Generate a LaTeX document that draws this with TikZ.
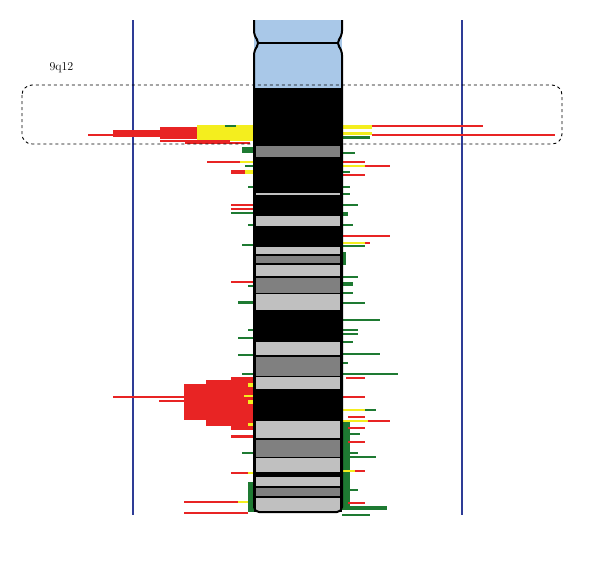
\documentclass[tikz,border=0pt]{standalone}
\usepackage{tikz}
\definecolor{cnvred}{HTML}{E82424}
\definecolor{cnvyellow}{HTML}{F4EE1E}
\definecolor{cnvgreen}{HTML}{1E7A32}
\definecolor{banddark}{HTML}{808080}
\definecolor{bandlight}{HTML}{C0C0C0}
\definecolor{chrblue}{HTML}{A9C8E8}
\definecolor{axisblue}{HTML}{2E3C96}
\tikzset{
  axisline/.style = {axisblue, line width=1.2pt},
  region/.style = {dashed, line width=0.9pt, rounded corners=10pt},
  chrline/.style = {black, line width=2pt}
}
\begin{document}
\begin{tikzpicture}[x=1pt, y=-1pt]
\useasboundingbox (0,0) rectangle (600,562);

% axes
\draw[axisline] (133,20) -- (133,515);
\draw[axisline] (462,20) -- (462,515);

% chromosome body
\fill[black] (254,88) rectangle (342,512);
\fill[chrblue] (254,20) rectangle (342,88);
\foreach \t/\b/\c in {146/157/banddark, 193/195/bandlight, 216/226/bandlight,
  247/254/bandlight, 256/263/banddark, 265/276/bandlight, 278/293/banddark,
  294/310/bandlight, 342/355/bandlight, 357/376/banddark, 377/389/bandlight,
  421/438/bandlight, 440/457/banddark, 458/472/bandlight, 477/486/bandlight,
  488/496/banddark, 498/512/bandlight}
  \fill[\c] (256,\t) rectangle (340,\b);

% copy number bars, left
\fill[cnvred] (160,127) rectangle (254,139);
\fill[cnvred] (113,130) rectangle (254,137);
\fill[cnvyellow] (197,125) rectangle (254,141);
\fill[cnvred] (184,384) rectangle (254,420);
\fill[cnvred] (206,380) rectangle (254,426);
\fill[cnvred] (231,377) rectangle (254,430);
\fill[cnvgreen] (248,482) rectangle (254,512);
\foreach \y/\a/\b/\w/\c in {
  135/88/160/2/cnvred, 126/225/236/2/cnvgreen, 141/160/230/2/cnvred, 143/185/250/2/cnvred,
  150/242/254/6/cnvgreen, 162/207/245/2/cnvred, 162/240/254/2/cnvyellow,
  172/231/245/4/cnvred, 172/245/254/4/cnvyellow, 166/245/254/2/cnvgreen,
  187/248/254/2/cnvgreen, 205/231/254/2/cnvred, 209/231/254/2/cnvred,
  213/231/254/2/cnvgreen, 225/248/254/2/cnvgreen, 245/242/254/2/cnvgreen,
  282/231/254/2/cnvred, 286/248/254/2/cnvgreen, 302/238/254/3/cnvgreen,
  330/248/254/2/cnvgreen, 338/238/254/2/cnvgreen, 355/238/254/2/cnvgreen,
  374/242/254/2/cnvgreen, 397/113/184/2/cnvred, 401/159/184/2/cnvred,
  385/248/254/4/cnvyellow, 396/244/254/2/cnvyellow, 402/248/254/4/cnvyellow,
  424/248/254/3/cnvyellow, 436/231/254/3/cnvred, 453/242/254/2/cnvgreen,
  473/231/248/2/cnvred, 473/248/254/2/cnvyellow,
  502/184/238/2/cnvred, 502/238/248/2/cnvyellow, 513/184/248/2/cnvred}
  \draw[\c, line width=\w pt] (\a,\y) -- (\b,\y);

% copy number bars, right
\fill[cnvgreen] (342,420) rectangle (350,510);
\fill[cnvgreen] (342,252) rectangle (346,265);
\foreach \y/\a/\b/\w/\c in {
  127/342/372/4/cnvyellow, 126/372/483/2/cnvred, 133/342/372/3/cnvyellow,
  135/372/555/2/cnvred, 137/342/370/3/cnvgreen, 153/342/355/2/cnvgreen,
  162/342/365/2/cnvred, 166/342/365/2/cnvyellow, 166/365/390/2/cnvred,
  172/342/350/2/cnvgreen, 175/342/365/2/cnvred, 187/342/350/2/cnvgreen,
  194/342/350/2/cnvgreen, 205/342/358/2/cnvgreen, 214/342/348/4/cnvgreen,
  225/342/353/2/cnvgreen, 236/342/390/2/cnvred, 243/342/365/2/cnvyellow,
  243/365/370/2/cnvred, 246/342/365/2/cnvgreen,
  277/342/358/2/cnvgreen, 284/342/353/4/cnvgreen, 293/342/353/2/cnvgreen,
  303/342/365/2/cnvgreen, 320/342/380/2/cnvgreen, 330/342/358/2/cnvgreen,
  334/342/358/2/cnvgreen, 342/342/353/2/cnvgreen, 354/342/380/2/cnvgreen,
  363/342/348/2/cnvgreen, 374/342/398/2/cnvgreen, 378/346/365/2/cnvred,
  397/342/365/2/cnvred, 410/342/365/2/cnvyellow, 410/365/376/2/cnvgreen,
  417/348/365/2/cnvred, 421/342/368/2/cnvyellow, 421/368/390/2/cnvred,
  428/348/365/2/cnvred, 434/342/360/2/cnvgreen, 442/348/365/2/cnvred,
  453/342/358/2/cnvgreen, 457/342/376/2/cnvgreen, 471/342/355/2/cnvyellow,
  471/355/365/2/cnvred, 490/342/358/2/cnvgreen, 503/348/365/2/cnvred,
  508/342/387/4/cnvgreen, 515/342/370/2/cnvgreen}
  \draw[\c, line width=\w pt] (\a,\y) -- (\b,\y);

% chromosome outline
\draw[chrline, rounded corners=5pt] (254,20) -- (254,36) -- (260,43) -- (254,50)
  -- (254,512) -- (342,512) -- (342,50) -- (336,43) -- (342,36) -- (342,20);
\draw[chrline] (258,43) -- (338,43);

% region of interest
\draw[region] (22,85) rectangle (562,144);
\node[anchor=west, font=\large] (label) at (46,68) {9q12};
\end{tikzpicture}
\end{document}
